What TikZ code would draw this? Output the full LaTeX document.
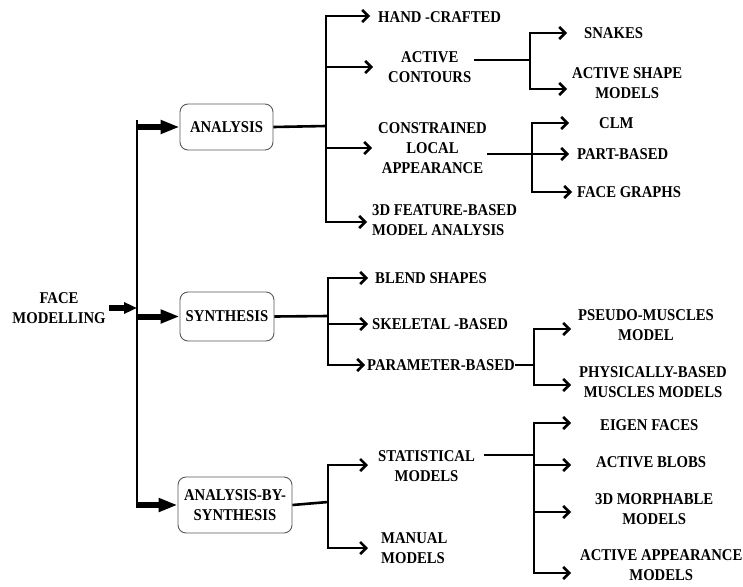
\documentclass[tikz,border=0pt]{standalone}
\usepackage{fontspec}
\setmainfont{Liberation Serif}
\usetikzlibrary{arrows.meta}
\newcommand\tx[2][c]{\raisebox{-1.5pt}[\height][\depth]{\scalebox{1}[1.12]{\begin{tabular}{@{}#1@{}}#2\end{tabular}}}}
\begin{document}
\begin{tikzpicture}[x=1pt,y=-1pt,
  txt/.style={font=\fontsize{14.7}{17.8}\selectfont\bfseries, inner sep=0pt, text=black, anchor=west},
  box/.style={draw=black!65, line width=0.9pt, rounded corners=8pt, fill=white, inner sep=0pt,
    font=\fontsize{14.7}{17.8}\selectfont\bfseries},
  conn/.style={line width=2.6pt},
  arr/.style={line width=2.6pt, -{Straight Barb[length=6pt,width=12pt]}},
  big/.style={line width=6pt, -{Triangle[length=19pt,width=13pt]}},
  bigs/.style={line width=6pt, -{Triangle[length=13pt,width=11pt]}}
]
\useasboundingbox (0,0) rectangle (743,586);

% root
\node[txt, anchor=center] (fm) at (59,308) {\tx{FACE\\MODELLING}};
\coordinate (bartop) at (137,120);
\coordinate (barbot) at (137,508);
\draw[conn] (bartop) -- (barbot);
\draw[bigs] ([xshift=3pt]fm.east) -- (bartop |- fm.east);

% level 1 boxes
\node[box, minimum width=93pt, minimum height=46pt] (ana) at (226.5,127) {\tx{ANALYSIS}};
\node[box, minimum width=94pt, minimum height=49pt] (syn) at (227,316.5) {\tx{SYNTHESIS}};
\node[box, minimum width=114pt, minimum height=56pt] (abs) at (235,505) {\tx{ANALYSIS-BY-\\SYNTHESIS}};
\draw[big] (bartop |- ana.west) -- (ana.west);
\draw[big] (bartop |- syn.west) -- (syn.west);
\draw[big] (bartop |- abs.west) -- (abs.west);

% analysis children
\coordinate (jA) at (326,126);
\node[txt] (hand) at (378,17) {\tx{HAND -CRAFTED}};
\node[txt] (ac) at (388,67) {\tx{ACTIVE\\CONTOURS}};
\node[txt] (cla) at (378,148) {\tx{CONSTRAINED\\LOCAL\\APPEARANCE}};
\node[txt] (f3d) at (372,220) {\tx[l]{3D FEATURE-BASED\\MODEL ANALYSIS}};
\draw[conn] (ana.east) -- (jA);
\draw[arr] (jA) |- ([shift={(-8,-1)}]hand.west);
\draw[arr] (jA) |- ([shift={(-15,0)}]ac.west);
\draw[arr] (jA) |- ([shift={(-6,0)}]cla.west);
\draw[arr] (jA) |- ([shift={(-5,2)}]f3d.west);

% active contours children
\coordinate (jAC) at (530,60);
\node[txt] (snk) at (584,33) {\tx{SNAKES}};
\node[txt] (asm) at (572,83) {\tx{ACTIVE SHAPE\\MODELS}};
\draw[conn] ([xshift=3pt]ac.east |- jAC) -- (jAC);
\draw[arr] (jAC) |- ([shift={(-17,0)}]snk.west);
\draw[arr] (jAC) |- ([shift={(-5,6)}]asm.west);

% constrained local appearance children
\coordinate (jCL) at (532,154);
\node[txt] (clm) at (599,123) {\tx{CLM}};
\node[txt] (pb) at (577,154) {\tx{PART-BASED}};
\node[txt] (fg) at (577,192) {\tx{FACE GRAPHS}};
\draw[conn] (cla.east |- jCL) -- (jCL);
\draw[arr] (jCL) |- ([shift={(-30,0)}]clm.west);
\draw[arr] (jCL) |- ([shift={(-8,0)}]pb.west);
\draw[arr] (jCL) |- ([shift={(-5,0)}]fg.west);

% synthesis children
\coordinate (jS) at (328,316);
\node[txt] (bs) at (375,278) {\tx{BLEND SHAPES}};
\node[txt] (sk) at (372,324) {\tx{SKELETAL -BASED}};
\node[txt] (pm) at (367,365) {\tx{PARAMETER-BASED}};
\draw[conn] (syn.east) -- (jS);
\draw[arr] (jS) |- ([shift={(-7,0)}]bs.west);
\draw[arr] (jS) |- ([shift={(-4,0)}]sk.west);
\draw[arr] (jS) |- ([shift={(-2,0)}]pm.west);

% parameter-based children
\coordinate (jP) at (534,365);
\node[txt] (psm) at (578,325) {\tx{PSEUDO-MUSCLES\\MODEL}};
\node[txt] (phy) at (579,382) {\tx{PHYSICALLY-BASED\\MUSCLES MODELS}};
\draw[conn] (pm.east) -- (jP);
\draw[arr] (jP) |- ([shift={(-7,4)}]psm.west);
\draw[arr] (jP) |- ([shift={(-8,3)}]phy.west);

% analysis-by-synthesis children
\coordinate (jB) at (328,502);
\node[txt] (sm) at (378,466) {\tx{STATISTICAL\\MODELS}};
\node[txt] (mm) at (381,548) {\tx[l]{MANUAL\\MODELS}};
\draw[conn] (abs.east) -- (jB);
\draw[arr] (jB) |- ([shift={(-10,-1)}]sm.west);
\draw[arr] (jB) |- ([shift={(-13,0)}]mm.west);

% statistical children
\coordinate (jSM) at (534,455);
\node[txt] (ef) at (600,425) {\tx{EIGEN FACES}};
\node[txt] (ab) at (596,462) {\tx{ACTIVE BLOBS}};
\node[txt] (mp) at (595,509) {\tx{3D MORPHABLE\\MODELS}};
\node[txt] (aam) at (580,565) {\tx{ACTIVE APPEARANCE\\MODELS}};
\draw[conn] ([xshift=9pt]sm.east |- jSM) -- (jSM);
\draw[arr] (jSM) |- ([shift={(-9,8)}]aam.west);
\draw[arr] (jSM) |- ([shift={(-29,-2)}]ef.west);
\draw[arr] (jSM) |- ([shift={(-25,3)}]ab.west);
\draw[arr] (jSM) |- ([shift={(-24,3)}]mp.west);
\end{tikzpicture}
\end{document}
